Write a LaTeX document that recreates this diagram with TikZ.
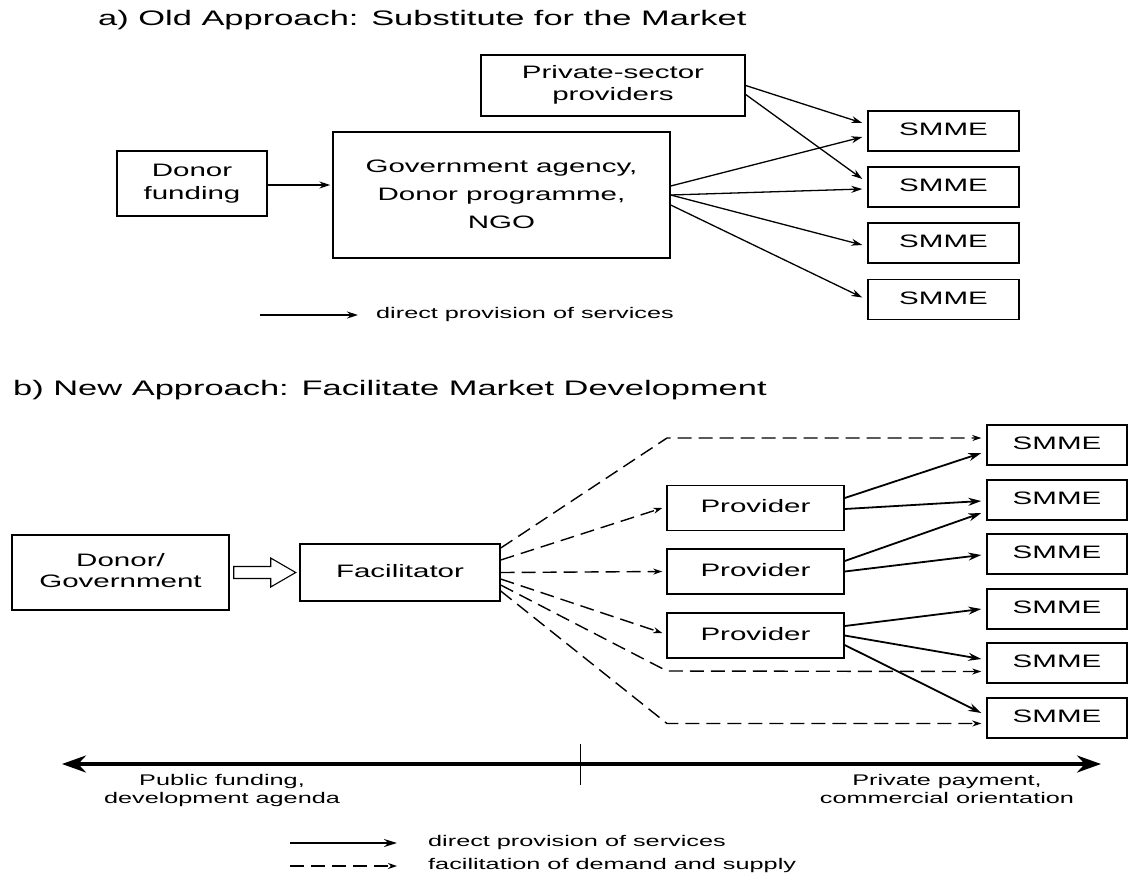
\documentclass[tikz,border=0pt]{standalone}
\usepackage{fontspec}
\setmainfont{Liberation Sans}
\usepackage{graphicx}
\usetikzlibrary{arrows.meta,calc}
% text is set wide: horizontally stretched lines
\newcommand{\wl}[1]{\scalebox{1.64}[1]{\begin{tabular}{@{}c@{}}#1\end{tabular}}}
\newcommand{\fsz}[2]{\fontsize{#1}{#2}\selectfont}

\begin{document}
\begin{tikzpicture}[x=1pt,y=-1pt,
  box/.style={draw, line width=1.4pt, inner sep=0pt, align=center},
  ttl/.style={anchor=west, inner sep=0pt, font=\fsz{21}{25}},
  small/.style={inner sep=0pt, font=\fsz{15.4}{18}},
  arr/.style={line width=1.3pt, -{Stealth[length=11pt,width=7pt]}},
  sarr/.style={line width=1.8pt, -{Stealth[length=13pt,width=8pt]}},
  darr/.style={line width=1.4pt, dash pattern=on 14pt off 7pt, -{Stealth[length=9pt,width=6pt]}},
  axis/.style={line width=3.5pt, {Stealth[length=24pt,width=17pt]}-{Stealth[length=24pt,width=17pt]}},
  smmea/.style={box, minimum width=151pt, minimum height=40pt, font=\fsz{18}{23}},
  smmeb/.style={box, minimum width=140pt, minimum height=40pt, font=\fsz{18}{23}},
  prov/.style={box, minimum width=177pt, minimum height=45pt, font=\fsz{18}{23}},
]
\useasboundingbox (0,0) rectangle (1129,876);

% ---------------- a) old approach ----------------
\node[ttl] (ta) at (98,20) {\wl{a) Old Approach: Substitute for the Market}};

\node[box, minimum width=264pt, minimum height=61pt, font=\fsz{18}{22}] (priv) at (613,85.5) {\wl{Private-sector\\providers}};
\node[box, minimum width=150pt, minimum height=65pt, font=\fsz{18}{23}] (dfund) at (192,183.5) {\wl{Donor\\funding}};
\node[box, minimum width=337pt, minimum height=126pt, font=\fsz{18}{28}] (gov) at (501.5,195) {\wl{Government agency,\\Donor programme,\\NGO}};

\node[smmea] (sa1) at (943.5,131) {\wl{SMME}};
\node[smmea] (sa2) at (943.5,187) {\wl{SMME}};
\node[smmea] (sa3) at (943.5,243) {\wl{SMME}};
\node[smmea] (sa4) at (943.5,299.5) {\wl{SMME}};

\draw[arr] ($(dfund.east)+(0,1.5)$) -- ($(gov.west |- dfund.east)+(-2,1.5)$);
\draw[arr] (priv.east) -- ($(sa1.west)+(-5,-8)$);
\draw[arr] ($(priv.east)+(0,9)$) -- ($(sa2.west)+(-5,-8)$);
\draw[arr] ($(gov.east)+(0,-9)$) -- ($(sa1.west)+(-5,6)$);
\draw[arr] (gov.east) -- ($(sa2.west)+(-5,2)$);
\draw[arr] (gov.east) -- ($(sa3.west)+(-5,2)$);
\draw[arr] ($(gov.east)+(0,10)$) -- ($(sa4.west)+(-5,-2)$);

\coordinate (la1) at (260,315);
\coordinate (la2) at (358,315);
\draw[arr] (la1) -- (la2);
\node[small, anchor=west] (lat) at (376,315) {\wl{direct provision of services}};

% ---------------- b) new approach ----------------
\node[ttl] (tb) at (13,390) {\wl{b) New Approach: Facilitate Market Development}};

\node[box, minimum width=217pt, minimum height=75pt, font=\fsz{18}{21}] (dg) at (120.5,572.5) {\wl{Donor/\\Government}};
\node[box, minimum width=200pt, minimum height=57pt, font=\fsz{18}{23}] (fac) at (400,572.5) {\wl{Facilitator}};

\node[prov] (p1) at (755.5,508) {\wl{Provider}};
\node[prov] (p2) at (755.5,571.5) {\wl{Provider}};
\node[prov] (p3) at (755.5,635.5) {\wl{Provider}};

\node[smmeb] (sb1) at (1057,445) {\wl{SMME}};
\node[smmeb] (sb2) at (1057,500) {\wl{SMME}};
\node[smmeb] (sb3) at (1057,554) {\wl{SMME}};
\node[smmeb] (sb4) at (1057,609) {\wl{SMME}};
\node[smmeb] (sb5) at (1057,663) {\wl{SMME}};
\node[smmeb] (sb6) at (1057,718) {\wl{SMME}};

% hollow block arrow from donor to facilitator
\coordinate (ha) at ($(dg.east)+(4,0)$);
\draw[line width=1.1pt, fill=white] (ha) ++(0,-6) -- ++(37,0) -- ++(0,-8.5) -- ++(25,14.5)
  -- ++(-25,14.5) -- ++(0,-8.5) -- ++(-37,0) -- cycle;

% facilitation (dashed)
\coordinate (k1) at (667,438);
\coordinate (k5) at (667,671);
\coordinate (k6) at (667,723.5);
\draw[darr] ($(fac.east)+(0,-24.5)$) -- (k1) -- ($(sb1.west)+(-5,-7)$);
\draw[darr] ($(fac.east)+(0,-12.5)$) -- ($(p1.west)+(-4,0)$);
\draw[darr] (fac.east) -- ($(p2.west)+(-4,0)$);
\draw[darr] ($(fac.east)+(0,6.5)$) -- ($(p3.west)+(-4,-2.5)$);
\draw[darr] ($(fac.east)+(0,12.5)$) -- (k5) -- ($(sb5.west)+(-5,8.5)$);
\draw[darr] ($(fac.east)+(0,18.5)$) -- (k6) -- ($(sb6.west)+(-5,5.5)$);

% direct provision (solid)
\draw[sarr] ($(p1.east)+(0,-10)$) -- ($(sb1.west)+(-5,8)$);
\draw[sarr] ($(p1.east)+(0,1)$) -- ($(sb2.west)+(-5,1)$);
\draw[sarr] ($(p2.east)+(0,-10.5)$) -- ($(sb2.west)+(-5,13)$);
\draw[sarr] (p2.east) -- ($(sb3.west)+(-5,1)$);
\draw[sarr] ($(p3.east)+(0,-9.5)$) -- ($(sb4.west)+(-5,0)$);
\draw[sarr] (p3.east) -- ($(sb5.west)+(-5,-4)$);
\draw[sarr] ($(p3.east)+(0,9.5)$) -- ($(sb6.west)+(-5,-5)$);

% public / private axis
\coordinate (axL) at (62,764);
\coordinate (axR) at (1101,764);
\draw[axis] (axL) -- (axR);
\coordinate (tk1) at (580,744);
\coordinate (tk2) at (580,785);
\draw[line width=1pt] (tk1) -- (tk2);
\node[small] (pub) at (222,791) {\wl{Public funding,\\development agenda}};
\node[small] (pri) at (947,791) {\wl{Private payment,\\commercial orientation}};

% legend
\coordinate (lb1) at (290,843);
\coordinate (lb2) at (397,843);
\coordinate (lb3) at (290,866);
\coordinate (lb4) at (397,866);
\draw[sarr] (lb1) -- (lb2);
\draw[darr] (lb3) -- (lb4);
\node[small, anchor=west] (lbt1) at (428,843) {\wl{direct provision of services}};
\node[small, anchor=west] (lbt2) at (428,866) {\wl{facilitation of demand and supply}};
\end{tikzpicture}
\end{document}
